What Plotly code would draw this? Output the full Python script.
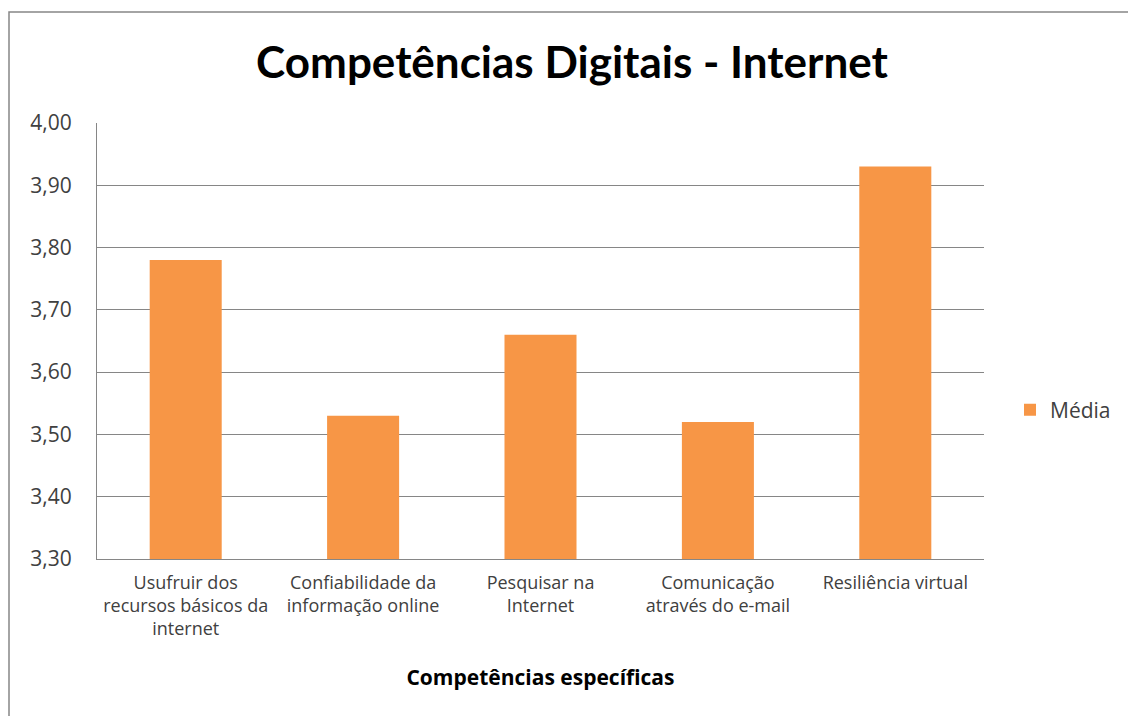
import plotly.graph_objects as go

categories = [
    "Usufruir dos<br>recursos básicos da<br>internet",
    "Confiabilidade da<br>informação online",
    "Pesquisar na<br>Internet",
    "Comunicação<br>através do e-mail",
    "Resiliência virtual",
]
media = [3.78, 3.53, 3.66, 3.52, 3.93]
y_ticks = [3.30, 3.40, 3.50, 3.60, 3.70, 3.80, 3.90, 4.00]

W, H = 1128, 716
L, R, T, B = 97, 144, 123, 157
pw, ph = W - L - R, H - T - B

fig = go.Figure()
fig.add_trace(go.Bar(
    x=categories, y=media, name="Média",
    marker=dict(color="#F79646", line=dict(width=0)),
))

fig.update_layout(
    width=W, height=H,
    margin=dict(l=L, r=R, t=T, b=B, autoexpand=False),
    paper_bgcolor="white", plot_bgcolor="white",
    separators=",.",
    bargap=0.594,
    font=dict(family="Open Sans, sans-serif", color="#404040"),
    title=dict(text="<b>Competências Digitais - Internet</b>",
               x=(572 - L) / pw, xref="paper", xanchor="center",
               y=1 - 63 / H, yanchor="middle", yref="container",
               font=dict(size=44, color="black", family="Lato, sans-serif")),
    showlegend=True,
    legend=dict(x=(1010 - L) / pw, xanchor="left", y=(H - B - 410) / ph, yanchor="middle",
                font=dict(size=21, color="#404040"), itemwidth=30,
                bgcolor="rgba(0,0,0,0)"),
    xaxis=dict(showline=True, linecolor="#868686", linewidth=1,
               tickfont=dict(size=18, color="#404040"), ticks="",
               ticklabelstandoff=7,
               title=dict(text="<b>Competências específicas</b>",
                          font=dict(size=21, color="black"), standoff=30)),
    yaxis=dict(range=[3.30, 4.00], tickvals=y_ticks, tickformat=".2f",
               showline=True, linecolor="#868686", linewidth=1,
               showgrid=True, gridcolor="#868686", gridwidth=1,
               tickfont=dict(size=21, color="#404040"), ticks="",
               ticklabelstandoff=20, zeroline=False),
    shapes=[dict(type="rect", xref="paper", yref="paper",
                 x0=(9 - L) / pw, x1=(W + 20 - L) / pw,
                 y0=-(B + 20) / ph, y1=1 + (T - 12) / ph,
                 line=dict(color="#868686", width=1.5), layer="below")],
)

fig.write_html("out.html")
